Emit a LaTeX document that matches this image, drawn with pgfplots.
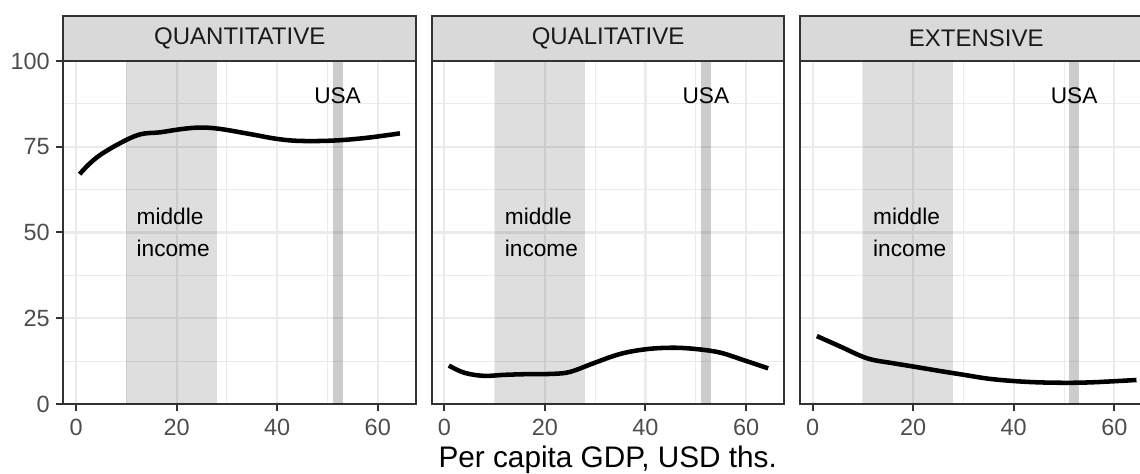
\documentclass[border=0pt]{standalone}
\usepackage{fontspec}
\setmainfont{Liberation Sans}
\usepackage{pgfplots}
\pgfplotsset{compat=1.18}
\definecolor{gridc}{HTML}{EBEBEB}
\definecolor{gtwenty}{HTML}{333333}
\definecolor{gthirty}{HTML}{4D4D4D}
\definecolor{gten}{HTML}{1A1A1A}
\definecolor{stripc}{HTML}{D9D9D9}

\tikzset{ann/.style={font=\fontsize{17}{24}\selectfont, inner sep=0pt, text=black}}
\pgfplotsset{
 panel/.style={
  scale only axis, width=264.4pt, height=257.25pt,
  anchor=south west,
  xmin=-2.5, xmax=67.6, ymin=0, ymax=100,
  xtick={0,20,40,60}, ytick={0,25,50,75,100},
  minor xtick={10,30,50}, minor ytick={12.5,37.5,62.5,87.5},
  grid=both,
  major grid style={draw=gridc, line width=1.6pt},
  minor grid style={draw=gridc, line width=0.8pt},
  axis line style={draw=gtwenty, line width=1.5pt},
  tick align=outside, xtick pos=bottom, ytick pos=left,
  major tick length=5.25pt, minor tick length=0pt,
  tick style={draw=gtwenty, line width=1.5pt},
  ticklabel style={font=\fontsize{17.6}{20}\selectfont, text=gthirty},
  xticklabel style={yshift=-2.5pt},
  yticklabel style={xshift=-1.5pt},
  /pgf/number format/assume math mode=true,
 },
 band/.style={draw=none, fill=black, fill opacity=0.13},
 usaband/.style={draw=none, fill=black, fill opacity=0.2},
 curve/.style={black, line width=3.4pt, smooth, tension=0.6},
}

\newcommand{\bands}{%
  \addplot[band] coordinates {(10,0) (10,100) (28,100) (28,0)} -- cycle;
  \addplot[usaband] coordinates {(51,0) (51,100) (53,100) (53,0)} -- cycle;
  \node[ann, anchor=west, align=left] at (axis cs:12,50) {middle\\income};
  \node[ann] at (axis cs:52,90) {USA};
}

\newcommand{\strip}[2]{%
  \draw[fill=stripc, draw=gtwenty, line width=1.5pt] (#1.north west) rectangle ([yshift=34.1pt]#1.north east);
  \node[font=\fontsize{18}{20}\selectfont, text=gten] at ([yshift=17.05pt]#1.north) {#2};
}

\begin{document}
\begin{tikzpicture}
\useasboundingbox (0,0) rectangle (855pt,355.5pt);

\begin{axis}[panel, name=ax1, at={(47.6pt,52.5pt)}]
\bands
\addplot[curve] coordinates {(0.7,67.0) (2.5,69.8) (4.8,72.6) (8.7,76.0) (12.7,78.6) (16.7,79.2) (20.7,80.1) (24.7,80.6) (28.6,80.2) (34.6,78.7) (39.9,77.3) (44.5,76.7) (51.2,76.8) (57.8,77.6) (64.4,78.9)};
\end{axis}

\begin{axis}[panel, name=ax2, at={(323.8pt,52.5pt)}, yticklabels={}, ytick style={draw=none}]
\bands
\addplot[curve] coordinates {(0.9,11.2) (4,9.1) (7.9,8.2) (11.9,8.5) (16.5,8.7) (21.8,8.8) (25.1,9.4) (29.7,11.9) (35,14.6) (40.3,16.0) (45.6,16.4) (50.2,16.0) (54.8,15.0) (59.5,12.8) (64.4,10.4)};
\end{axis}

\begin{axis}[panel, name=ax3, at={(600pt,52.5pt)}, yticklabels={}, ytick style={draw=none}]
\bands
\addplot[curve] coordinates {(0.85,19.8) (5.6,16.7) (9.6,14.0) (12.2,12.8) (15.5,12.0) (20.1,10.9) (25.4,9.6) (30.1,8.5) (35.4,7.3) (42,6.5) (48.6,6.2) (55.2,6.3) (64.4,7.0)};
\end{axis}

\strip{ax1}{QUANTITATIVE}
\strip{ax2}{QUALITATIVE}
\strip{ax3}{EXTENSIVE}

\node[anchor=base, font=\fontsize{22.3}{24}\selectfont, text=black] at (455.8pt,4.5pt) {Per capita GDP, USD ths.};
\end{tikzpicture}
\end{document}
